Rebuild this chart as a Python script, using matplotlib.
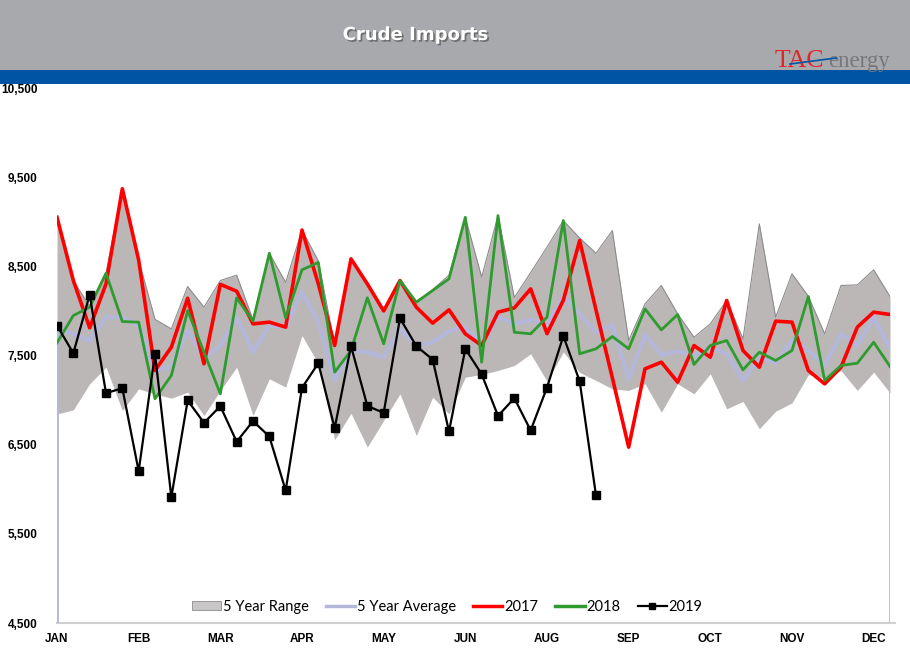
import numpy as np
import matplotlib
matplotlib.use("Agg")
import matplotlib.pyplot as plt
import matplotlib.patheffects as pe
from matplotlib.patches import Rectangle, Patch
from matplotlib.lines import Line2D

# weekly crude imports (kb/d), 52 weeks
month_ticks = [0, 5, 10, 15, 20, 25, 30, 35, 40, 45, 50]
month_labels = ["JAN", "FEB", "MAR", "APR", "MAY", "JUN", "AUG", "SEP", "OCT", "NOV", "DEC"]

range_high = [9050, 8341, 8050, 8423, 9370, 8570, 7905, 7799, 8273, 8042,
              8341, 8401, 7900, 8647, 8320, 8907, 8560, 7612, 8584, 8303,
              8004, 8341, 8098, 8240, 8400, 9050, 8378, 9069, 8150, 8430,
              8715, 9013, 8818, 8647, 8901, 7668, 8079, 8285, 7967, 7705,
              7855, 8117, 7686, 8976, 7930, 8416, 8165, 7743, 8285, 8292,
              8461, 8161]
range_low = [6845, 6890, 7182, 7369, 6883, 7126, 7070, 7021, 7089, 6827,
             7108, 7369, 6827, 7239, 7145, 7724, 7407, 6555, 6853, 6473,
             6771, 7070, 6603, 7033, 6845, 7257, 7287, 7332, 7388, 7519,
             7212, 7540, 7310, 7220, 7126, 7108, 7182, 6865, 7182, 7070,
             7295, 6902, 6985, 6678, 6875, 6968, 7285, 7248, 7330, 7108,
             7313, 7080]
avg_5yr = [7787, 7743, 7668, 7930, 7930, 7836, 7332, 7377, 7780, 7463,
           7612, 7930, 7537, 7836, 7818, 8210, 7874, 7220, 7556, 7537,
           7481, 7799, 7612, 7649, 7773, 7818, 7631, 7930, 7855, 7900,
           7847, 8160, 7967, 7761, 7836, 7239, 7735, 7508, 7548, 7500,
           7593, 7519, 7220, 7474, 7414, 7668, 7556, 7388, 7743, 7612,
           7930, 7575]
y2017 = [9050, 8341, 7810, 8303, 9370, 8570, 7332, 7593, 8142, 7407,
         8298, 8221, 7855, 7874, 7818, 8907, 8303, 7612, 8584, 8303,
         8000, 8341, 8042, 7863, 8012, 7743, 7612, 7986, 8034, 8247,
         7745, 8120, 8789, 8010, 7250, 6472, 7350, 7425, 7201, 7612,
         7481, 8117, 7556, 7369, 7885, 7874, 7332, 7182, 7369, 7818,
         7986, 7960]
y2018 = [7642, 7948, 8042, 8423, 7881, 7874, 7015, 7276, 8004, 7537,
         7070, 8147, 7885, 8647, 7922, 8461, 8543, 7313, 7556, 8147,
         7631, 8341, 8098, 8229, 8360, 9050, 7425, 9069, 7761, 7743,
         7930, 9013, 7519, 7575, 7713, 7575, 8023, 7787, 7960, 7399,
         7612, 7668, 7339, 7537, 7444, 7556, 8161, 7220, 7388, 7414,
         7649, 7377]
y2019 = [7836, 7526, 8180, 7077, 7134, 6203, 7519, 5912, 6996, 6745,
         6932, 6533, 6764, 6592, 5987, 7138, 7414, 6685, 7605, 6935,
         6857, 7918, 7605, 7455, 6648, 7575, 7290, 6823, 7021, 6660,
         7141, 7718, 7212, 5931]

W, H = 910, 661
fig = plt.figure(figsize=(W / 100, H / 100), dpi=100)

# ---------- header ----------
hdr = fig.add_axes([0, (H - 70) / H, 1, 70 / H])
hdr.set_facecolor("#A7A9AC")
hdr.set_xticks([]); hdr.set_yticks([])
for s in hdr.spines.values():
    s.set_visible(False)
fig.patches.append(Rectangle((0, (H - 84) / H), 1, 14 / H, transform=fig.transFigure,
                             facecolor="#0054A4", edgecolor="none", zorder=5))
fig.text(415 / W, (H - 35) / H, "Crude Imports", ha="center", va="center",
         fontsize=13, fontweight="bold", color="white", family="DejaVu Sans",
         path_effects=[pe.withSimplePatchShadow(offset=(1.2, -1.2), shadow_rgbFace="#555555", alpha=0.7)])
# logo
fig.text(775 / W, (H - 67) / H, "TAC", ha="left", va="baseline", fontsize=18.5,
         color="#E0262B", family="Liberation Serif", zorder=6)
fig.text(828 / W, (H - 67) / H, "energy", ha="left", va="baseline", fontsize=16.5,
         color="#77787B", family="Liberation Serif", zorder=6)
fig.lines.append(Line2D([790 / W, 836 / W], [(H - 64) / H, (H - 58) / H], transform=fig.transFigure,
                        color="#0054A4", lw=1.2, zorder=7))

# ---------- chart ----------
ax = fig.add_axes([57 / W, (H - 623) / H, 833 / W, 535 / H])
x = np.arange(len(avg_5yr))
x19 = np.arange(len(y2019))

ax.fill_between(x, range_low, range_high, color="#BBB7B7", lw=0, zorder=1)
ax.plot(x, range_high, color="#8C8C8C", lw=0.8, zorder=1.5)
ax.vlines([x[0], x[-1]], 4500, [avg_5yr[0], avg_5yr[-1]], color="#B4B7DA", lw=2, zorder=1.6)
ax.plot(x, avg_5yr, color="#B4B7DA", lw=3, zorder=2)
ax.plot(x, y2017, color="#FF0000", lw=2.6, zorder=3)
ax.plot(x, y2018, color="#2F9B2F", lw=2, zorder=4)
ax.plot(x19, y2019, color="black", lw=1.6, marker="s", ms=6, zorder=5)

ax.set_xlim(0, 51)
ax.set_ylim(4500, 10500)
ax.set_yticks(range(4500, 10501, 1000))
ax.set_yticklabels([f"{v:,}" for v in range(4500, 10501, 1000)])
ax.set_xticks(month_ticks)
ax.set_xticklabels(month_labels)
ax.tick_params(axis="y", length=0, pad=14, labelsize=8.5)
ax.tick_params(axis="x", length=0, pad=7, labelsize=8.5)
for lab in ax.get_xticklabels() + ax.get_yticklabels():
    lab.set_fontweight("bold")
    lab.set_family("Liberation Sans")
for s in ["top", "right", "left"]:
    ax.spines[s].set_visible(False)
ax.spines["bottom"].set_color("#D0D0D0")
ax.spines["bottom"].set_linewidth(1.5)
ax.spines["bottom"].set_zorder(0.5)
ax.spines["bottom"].set_bounds(0, 51.3)
ax.spines["bottom"].set_clip_on(False)

handles = [
    Patch(facecolor="#C8C6C6", edgecolor="#8C8C8C", lw=0.6),
    Line2D([], [], color="#B4B7DA", lw=2.5),
    Line2D([], [], color="#FF0000", lw=2.5),
    Line2D([], [], color="#2F9B2F", lw=2.5),
    Line2D([], [], color="black", lw=1.6, marker="s", ms=5),
]
labels = ["5 Year Range", "5 Year Average", "2017", "2018", "2019"]
fig.legend(handles, labels, loc="center", bbox_to_anchor=(447 / W, (H - 607) / H),
           ncol=5, frameon=False, prop={"family": "Lato", "size": 10.5},
           handlelength=2.0, handletextpad=0.1, columnspacing=1.2, handleheight=0.6)

fig.savefig("out.png", dpi=100)
